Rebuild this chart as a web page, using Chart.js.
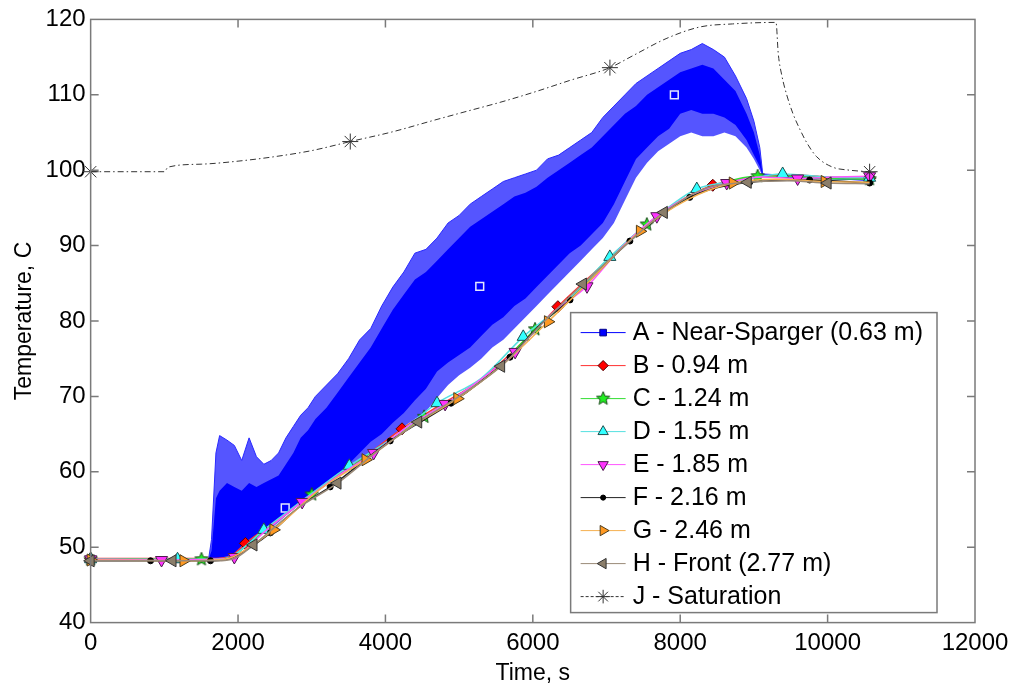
<!DOCTYPE html>
<html>
<head>
<meta charset="utf-8">
<script src="https://cdn.jsdelivr.net/npm/chart.js@4.4.1/dist/chart.umd.min.js"></script>
<style>
	html, body { margin: 0; padding: 0; background: #fff; }
	#wrap { width: 1016px; height: 687px; }
</style>
</head>
<body>
<div id="wrap"><canvas id="tempChart" width="1016" height="687"></canvas></div>
<script>
const seriesLabels = ["A - Near-Sparger (0.63 m)", "B - 0.94 m", "C - 1.24 m", "D - 1.55 m",
	"E - 1.85 m", "F - 2.16 m", "G - 2.46 m", "H - Front (2.77 m)", "J - Saturation"]

const xTicks = [0, 2000, 4000, 6000, 8000, 10000, 12000]
const yTicks = [40, 50, 60, 70, 80, 90, 100, 110, 120]

// A oscillates too fast to read point by point, so it is kept as envelopes
const aTime = [0, 1600, 1640, 1700, 1750, 1850, 1950, 2050, 2150, 2250, 2350, 2450, 2550, 2650, 2750, 2850,
	2950, 3050, 3200, 3350, 3500, 3650, 3800, 3950, 4100, 4250, 4400, 4550, 4700, 4850, 5000, 5150, 5300,
	5450, 5600, 5750, 5900, 6050, 6200, 6350, 6500, 6650, 6800, 6950, 7100, 7250, 7400, 7550, 7700, 7850,
	8000, 8150, 8300, 8450, 8600, 8750, 8900, 9000, 9080, 9120, 10570]
const aSpikeTop = [48.3, 48.4, 51.0, 62.5, 64.8, 64.2, 63.5, 61.5, 64.5, 62.0, 61.0, 61.5, 62.5, 64.5, 66.0, 67.5,
	68.5, 70.0, 71.5, 73.0, 75.0, 77.5, 79.0, 82.0, 84.5, 86.5, 89.0, 89.5, 91.0, 93.0, 94.0, 95.5, 96.5,
	97.5, 98.5, 99.0, 99.5, 100.0, 101.5, 102.0, 103.0, 104.0, 105.0, 107.0, 108.5, 110.0, 111.5, 112.5, 113.5, 114.5,
	115.5, 116.0, 116.8, 116.0, 115.0, 112.5, 109.5, 106.5, 103.0, 99.5, 98.7]
const aDenseTop = [48.3, 48.4, 49.5, 56.5, 57.5, 58.5, 58.0, 57.5, 58.5, 58.0, 58.5, 59.0, 59.5, 61.0, 62.5, 64.5,
	65.5, 67.0, 68.5, 70.5, 72.5, 74.5, 76.5, 79.0, 81.5, 83.5, 85.5, 86.5, 88.0, 89.5, 91.0, 92.5, 93.5,
	94.5, 95.5, 96.5, 97.0, 97.8, 99.0, 100.0, 101.0, 102.0, 103.0, 104.5, 106.0, 107.5, 108.5, 110.0, 111.0, 112.0,
	113.0, 113.5, 114.0, 113.5, 112.0, 110.5, 107.5, 105.0, 102.0, 99.3, 98.7]
const aDenseBottom = [48.3, 48.3, 48.4, 48.5, 48.6, 48.8, 49.2, 50.0, 50.7, 51.4, 52.2, 52.8, 53.6, 54.5, 55.3, 56.1,
	56.8, 57.5, 58.5, 59.6, 61.0, 62.5, 64.0, 65.0, 66.5, 67.8, 69.5, 71.0, 73.3, 74.5, 75.5, 76.5, 78.0,
	79.5, 80.5, 82.0, 83.0, 84.5, 86.0, 87.5, 89.0, 90.0, 91.5, 93.0, 95.5, 98.5, 101.5, 103.0, 104.5, 105.5,
	107.5, 108.0, 107.5, 107.5, 107.0, 106.0, 104.0, 102.0, 100.5, 99.2, 98.6]
const aSpikeBottom = [48.3, 48.3, 48.3, 48.4, 48.4, 48.5, 48.8, 49.6, 50.4, 51.1, 51.9, 52.5, 53.3, 54.2, 55.0, 55.8,
	56.5, 57.2, 58.2, 59.3, 60.6, 61.5, 62.6, 63.6, 64.8, 66.0, 67.0, 68.0, 69.8, 71.5, 72.8, 73.8, 75.0,
	76.5, 77.5, 79.0, 80.5, 82.0, 83.5, 85.0, 86.5, 88.0, 89.5, 91.0, 93.0, 96.0, 99.0, 101.0, 102.5, 103.5,
	104.5, 105.0, 104.5, 104.5, 105.0, 104.5, 103.0, 101.5, 100.0, 99.1, 98.6]
const aMarkTime = [0, 2640, 5280, 7920, 10560]
const aMarkTemp = [48.3, 55.2, 84.6, 110.0, 98.7]

const bTime = [0, 1000, 1700, 1900, 2100, 2600, 3100, 3600, 4225, 4700, 5250, 5800, 6340, 6900, 7400, 7900, 8442, 9000, 9500, 10000, 10570]
const bTemp = [48.5, 48.5, 48.5, 48.8, 50.5, 54.0, 57.8, 61.1, 65.7, 68.6, 71.9, 76.6, 81.9, 87.0, 91.4, 95.3, 98.0, 99.0, 99.4, 99.1, 98.9]
const bMarks = [0, 2100, 4225, 6340, 8442, 10570]

const cTime = [0, 800, 1504, 1700, 1900, 2250, 2600, 3000, 3500, 4000, 4525, 5000, 5500, 6030, 6500, 7000, 7547, 8000, 8500, 9051, 9500, 10000, 10570]
const cTemp = [48.4, 48.4, 48.4, 48.4, 48.7, 51.3, 54.0, 57.0, 60.4, 63.8, 67.3, 70.2, 73.6, 78.9, 82.9, 88.0, 92.8, 95.8, 98.0, 99.2, 99.2, 98.9, 98.8]
const cMarks = [0, 1504, 3000, 4525, 6030, 7547, 9051, 10570]

const dTime = [0, 1179, 1700, 1900, 2350, 2900, 3510, 4100, 4700, 5300, 5870, 6450, 7045, 7650, 8225, 8800, 9390, 10000, 10570]
const dTemp = [48.4, 48.4, 48.4, 48.7, 52.3, 56.4, 60.8, 64.5, 69.1, 72.4, 77.9, 82.5, 88.5, 93.6, 97.5, 98.6, 99.5, 99.1, 99.0]
const dMarks = [0, 1179, 2350, 3510, 4700, 5870, 7045, 8225, 9390, 10570]

const eTime = [0, 962, 1700, 1950, 2400, 2870, 3350, 3840, 4300, 4810, 5300, 5760, 6250, 6735, 7200, 7683, 8150, 8631, 9100, 9593, 10100, 10570]
const eTemp = [48.4, 48.3, 48.4, 48.7, 52.4, 56.0, 59.4, 62.5, 66.0, 69.0, 72.3, 75.9, 80.9, 84.6, 89.7, 93.9, 96.7, 98.3, 99.1, 98.9, 99.1, 99.2]
const eMarks = [0, 962, 1950, 2870, 3840, 4810, 5760, 6735, 7683, 8631, 9593, 10570]

const fTime = [0, 813, 1626, 1800, 2000, 2440, 2850, 3250, 4065, 4890, 5300, 5690, 6100, 6505, 7317, 8130, 8943, 9756, 10570]
const fTemp = [48.2, 48.2, 48.2, 48.3, 49.0, 51.9, 55.5, 58.0, 64.1, 69.1, 72.0, 75.2, 79.5, 82.8, 90.6, 96.4, 98.4, 98.7, 98.3]
const fMarks = [0, 813, 1626, 2440, 3250, 4065, 4890, 5690, 6505, 7317, 8130, 8943, 9756, 10570]

const gTime = [0, 1260, 1700, 1900, 2480, 3100, 3730, 4350, 4975, 5600, 6205, 6800, 7453, 8100, 8713, 9300, 9960, 10570]
const gTemp = [48.3, 48.2, 48.3, 48.6, 52.3, 57.6, 61.6, 66.0, 69.7, 74.3, 79.9, 85.6, 91.9, 96.1, 98.3, 98.8, 98.5, 98.4]
const gMarks = [0, 1260, 2480, 3730, 4975, 6205, 7453, 8713, 9960]

const hTime = [0, 1111, 1700, 1950, 2210, 2800, 3350, 3900, 4445, 5000, 5570, 6100, 6680, 7250, 7778, 8350, 8916, 9450, 10000, 10570]
const hTemp = [48.2, 48.2, 48.2, 48.5, 50.3, 55.1, 58.5, 62.8, 66.6, 70.0, 74.0, 79.4, 84.9, 90.0, 94.4, 97.6, 98.4, 98.6, 98.3, 98.2]
const hMarks = [0, 1111, 2210, 3350, 4445, 5570, 6680, 7778, 8916, 10000]

const jTime = [0, 1000, 1050, 1500, 2000, 2500, 3000, 3523, 4100, 4650, 5100, 5555, 6000, 6500, 7046, 7360, 7820,
	8270, 8710, 9300, 9330, 9380, 9445, 9530, 9620, 9720, 9850, 10070, 10300, 10570]
const jTemp = [99.8, 99.8, 100.4, 100.8, 101.2, 101.8, 102.6, 103.8, 105.1, 106.6, 107.8, 109.0, 110.3, 111.9, 113.6, 115.2, 117.5,
	119.0, 119.4, 119.6, 115.5, 112.5, 110.0, 107.5, 105.5, 103.6, 101.8, 100.4, 100.0, 99.8]
const jMarks = [0, 3523, 7046, 10570]

const FONT = '"Liberation Sans", Arial, sans-serif'
Chart.defaults.font.family = FONT
Chart.defaults.color = "#000"

function makeStar(r) {
	const c = document.createElement("canvas")
	const s = Math.ceil(r * 2 + 4)
	c.width = s
	c.height = s
	const g = c.getContext("2d")
	g.beginPath()
	for (let i = 0; i < 10; i++) {
		const rad = i % 2 ? r * 0.45 : r
		const a = -Math.PI / 2 + i * Math.PI / 5
		g.lineTo(s / 2 + rad * Math.cos(a), s / 2 + rad * Math.sin(a))
	}
	g.closePath()
	g.fillStyle = "#22ee22"
	g.fill()
	g.strokeStyle = "#1d4d1d"
	g.lineWidth = 1
	g.stroke()
	return c
}

const styles = {
	A: { line: "#0000ff", fill: "#0000ff", edge: "#00008b", shape: "rect", size: 5.5 },
	B: { line: "#ff3030", fill: "#ff0000", edge: "#500000", shape: "rectRot", size: 6 },
	C: { line: "#33dd33", fill: "#22ee22", edge: "#1d4d1d", shape: makeStar(7), size: 7 },
	D: { line: "#55e0e0", fill: "#33ffff", edge: "#1d4d4d", shape: "triangle", size: 7 },
	E: { line: "#ff55ff", fill: "#ff33ff", edge: "#4d1d4d", shape: "triangle", rotation: 180, size: 7 },
	F: { line: "#222222", fill: "#000000", edge: "#000000", shape: "circle", size: 3 },
	G: { line: "#f5b050", fill: "#ff9922", edge: "#4d3d1d", shape: "triangle", rotation: 90, size: 7 },
	H: { line: "#9a8a78", fill: "#8b7e6a", edge: "#333333", shape: "triangle", rotation: 270, size: 7 },
	J: { line: "#333333", fill: "#333333", edge: "#333333", shape: "star", size: 8, dash: [6, 3, 1.5, 3] },
}

function zip(times, temps) {
	return times.map((t, i) => ({ x: t, y: temps[i] }))
}

function curveDataset(label, times, temps, marks, style) {
	return {
		label: label,
		data: zip(times, temps),
		borderColor: style.line,
		borderWidth: style.dash ? 1 : 1.5,
		borderDash: style.dash || [],
		backgroundColor: style.fill,
		pointBackgroundColor: style.fill,
		pointBorderColor: style.edge,
		pointBorderWidth: 1,
		pointStyle: style.shape,
		pointRotation: style.rotation || 0,
		pointRadius: ctx => (ctx.raw && marks.includes(ctx.raw.x)) ? style.size : 0,
		cubicInterpolationMode: "monotone",
		fill: false,
		clip: false,
	}
}

function bandDataset(label, temps, fill, color, width) {
	return {
		label: label,
		data: zip(aTime, temps),
		borderColor: "#2a2aff",
		borderWidth: width,
		backgroundColor: color,
		pointRadius: 0,
		tension: 0,
		fill: fill,
	}
}

const datasets = [
	curveDataset(seriesLabels[8], jTime, jTemp, jMarks, styles.J),
	curveDataset(seriesLabels[7], hTime, hTemp, hMarks, styles.H),
	curveDataset(seriesLabels[6], gTime, gTemp, gMarks, styles.G),
	curveDataset(seriesLabels[5], fTime, fTemp, fMarks, styles.F),
	curveDataset(seriesLabels[4], eTime, eTemp, eMarks, styles.E),
	curveDataset(seriesLabels[3], dTime, dTemp, dMarks, styles.D),
	curveDataset(seriesLabels[2], cTime, cTemp, cMarks, styles.C),
	curveDataset(seriesLabels[1], bTime, bTemp, bMarks, styles.B),
	{
		label: seriesLabels[0],
		data: zip(aMarkTime, aMarkTemp),
		showLine: false,
		pointStyle: "rect",
		pointRadius: 5.5,
		pointBackgroundColor: "#0000ff",
		pointBorderColor: "#e4e8ff",
		pointBorderWidth: 1.5,
		clip: false,
	},
	bandDataset("A dense top", aDenseTop, "+1", "#0000ff", 0),
	bandDataset("A dense bottom", aDenseBottom, false, "#0000ff", 0),
	bandDataset("A spike top", aSpikeTop, "+1", "rgba(20, 20, 255, 0.72)", 1),
	bandDataset("A spike bottom", aSpikeBottom, false, "rgba(20, 20, 255, 0.72)", 0),
]

// legend rows in the order shown, each pointing at its style
const legendRows = ["A", "B", "C", "D", "E", "F", "G", "H", "J"].map((k, i) => ({ label: seriesLabels[i], style: styles[k] }))

function drawMarker(ctx, style, x, y, scale) {
	ctx.save()
	ctx.fillStyle = style.fill
	ctx.strokeStyle = style.edge
	ctx.lineWidth = 1
	ctx.setLineDash([])
	Chart.helpers.drawPoint(ctx, {
		pointStyle: style.shape,
		rotation: style.rotation || 0,
		radius: style.size * scale,
		borderWidth: 1,
	}, x, y)
	ctx.restore()
}

const framePlugin = {
	id: "frame",
	afterDatasetsDraw(chart) {
		const ctx = chart.ctx
		const area = chart.chartArea
		const xs = chart.scales.x
		const ys = chart.scales.y
		const len = 8
		ctx.save()
		ctx.strokeStyle = "#7a7a7a"
		ctx.lineWidth = 1.5
		ctx.strokeRect(area.left, area.top, area.right - area.left, area.bottom - area.top)
		ctx.beginPath()
		xTicks.slice(1, -1).forEach(v => {
			const px = xs.getPixelForValue(v)
			ctx.moveTo(px, area.bottom)
			ctx.lineTo(px, area.bottom - len)
			ctx.moveTo(px, area.top)
			ctx.lineTo(px, area.top + len)
		})
		yTicks.slice(1, -1).forEach(v => {
			const py = ys.getPixelForValue(v)
			ctx.moveTo(area.left, py)
			ctx.lineTo(area.left + len, py)
			ctx.moveTo(area.right, py)
			ctx.lineTo(area.right - len, py)
		})
		ctx.stroke()
		ctx.restore()
	}
}

const legendPlugin = {
	id: "boxLegend",
	afterDraw(chart) {
		const ctx = chart.ctx
		const area = chart.chartArea
		ctx.save()
		ctx.font = "25px " + FONT
		let textW = 0
		legendRows.forEach(r => { textW = Math.max(textW, ctx.measureText(r.label).width) })
		const rowH = 33
		const boxW = 62 + textW + 14
		const boxH = 300
		const right = area.right - 38
		const bottom = area.bottom - 10
		const left = right - boxW
		const top = bottom - boxH
		ctx.fillStyle = "#fff"
		ctx.fillRect(left, top, boxW, boxH)
		ctx.strokeStyle = "#7a7a7a"
		ctx.lineWidth = 1.5
		ctx.strokeRect(left, top, boxW, boxH)
		legendRows.forEach((r, i) => {
			const y = top + 20 + i * rowH
			ctx.save()
			ctx.strokeStyle = r.style.line
			ctx.lineWidth = 1
			ctx.setLineDash(r.style.dash ? [3, 2] : [])
			ctx.beginPath()
			ctx.moveTo(left + 10, y)
			ctx.lineTo(left + 55, y)
			ctx.stroke()
			ctx.restore()
			drawMarker(ctx, r.style, left + 32.5, y, 0.85)
			ctx.fillStyle = "#000"
			ctx.textBaseline = "middle"
			ctx.textAlign = "left"
			ctx.fillText(r.label, left + 62, y + 1)
		})
		ctx.restore()
	}
}

new Chart(document.getElementById("tempChart"), {
	type: "line",
	data: { datasets: datasets },
	options: {
		responsive: false,
		animation: false,
		events: [],
		layout: { padding: { top: 19, right: 41, bottom: 0, left: 0 } },
		plugins: {
			legend: { display: false },
			tooltip: { enabled: false },
		},
		scales: {
			x: {
				type: "linear",
				min: xTicks[0],
				max: xTicks[xTicks.length - 1],
				afterBuildTicks: scale => { scale.ticks = xTicks.map(v => ({ value: v })) },
				ticks: { padding: 6, font: { size: 24 }, maxRotation: 0, autoSkip: false, callback: v => String(v) },
				grid: { display: false, drawTicks: false },
				border: { display: false },
				title: { display: true, text: "Time, s", font: { size: 23 }, padding: { top: -4, bottom: 0 } },
			},
			y: {
				type: "linear",
				min: yTicks[0],
				max: yTicks[yTicks.length - 1],
				afterBuildTicks: scale => { scale.ticks = yTicks.map(v => ({ value: v })) },
				ticks: { padding: 5, font: { size: 24 }, callback: v => String(v) },
				grid: { display: false, drawTicks: false },
				border: { display: false },
				title: { display: true, text: "Temperature, C", font: { size: 23 }, padding: { top: 11, bottom: 2 } },
			},
		},
	},
	plugins: [framePlugin, legendPlugin],
})
</script>
</body>
</html>
